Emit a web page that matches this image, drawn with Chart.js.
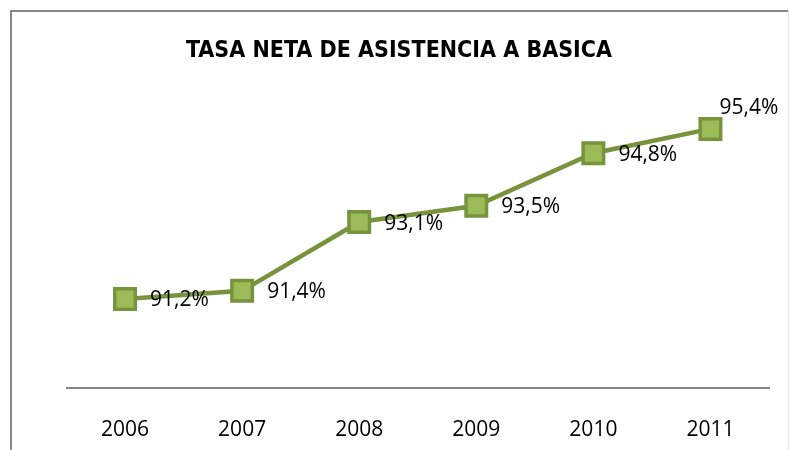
<!DOCTYPE html>
<html>
<head>
<meta charset="utf-8">
<script src="https://cdn.jsdelivr.net/npm/chart.js@4"></script>
<style>
  html, body { margin: 0; padding: 0; background: #fff; }
  #wrap { width: 789px; height: 450px; position: relative; }
</style>
</head>
<body>
<div id="wrap"><canvas id="chart" width="789" height="450"></canvas></div>
<script>
// datos
const years = ['2006', '2007', '2008', '2009', '2010', '2011'];
const tasa = [91.2, 91.4, 93.1, 93.5, 94.8, 95.4];
const labelOffsets = [[25, 1], [25, 1], [25, 2], [25, 1], [25, 2], [9, -21]];
const chartTitle = 'TASA NETA DE ASISTENCIA A BASICA';

const lineColor = '#77933C';
const markerFill = '#9BBB59';
const labelFont = '21px "Open Sans"';

// marco y título
const framePlugin = {
  id: 'frame',
  beforeDraw(chart) {
    const ctx = chart.ctx;
    ctx.save();
    ctx.strokeStyle = '#888888';
    ctx.lineWidth = 2;
    ctx.beginPath();
    ctx.moveTo(11, 450);
    ctx.lineTo(11, 11);
    ctx.lineTo(788, 11);
    ctx.stroke();
    ctx.strokeStyle = '#e4e4e4';
    ctx.lineWidth = 1;
    ctx.beginPath();
    ctx.moveTo(788.5, 11);
    ctx.lineTo(788.5, 450);
    ctx.stroke();

    ctx.font = 'bold 23px "Liberation Sans Narrow", "DejaVu Sans Condensed", sans-serif';
    ctx.fillStyle = '#000';
    ctx.textAlign = 'center';
    ctx.textBaseline = 'alphabetic';
    ctx.fillText(chartTitle, 399, 57);
    ctx.restore();
  }
};

// etiquetas de datos
const valueLabels = {
  id: 'valueLabels',
  afterDatasetsDraw(chart) {
    const ctx = chart.ctx;
    const meta = chart.getDatasetMeta(0);
    ctx.save();
    ctx.font = labelFont;
    ctx.fillStyle = '#000';
    ctx.textAlign = 'left';
    ctx.textBaseline = 'middle';
    meta.data.forEach((pt, i) => {
      const txt = tasa[i].toFixed(1).replace('.', ',') + '%';
      const off = labelOffsets[i];
      ctx.fillText(txt, pt.x + off[0], pt.y + off[1]);
    });
    ctx.restore();
  }
};

const ctx = document.getElementById('chart').getContext('2d');
new Chart(ctx, {
  type: 'line',
  data: {
    labels: years,
    datasets: [{
      data: tasa,
      borderColor: lineColor,
      borderWidth: 4.5,
      pointStyle: 'rect',
      pointRadius: 14.5,
      pointBackgroundColor: markerFill,
      pointBorderColor: lineColor,
      pointBorderWidth: 3.5,
      tension: 0
    }]
  },
  options: {
    responsive: false,
    animation: false,
    layout: { padding: { left: 66.5, right: 20, top: 104.6, bottom: 0 } },
    plugins: {
      legend: { display: false },
      tooltip: { enabled: false },
      title: { display: false }
    },
    scales: {
      x: {
        offset: true,
        grid: { display: false, drawTicks: false },
        border: { display: true, color: '#868686', width: 2 },
        ticks: { color: '#000', padding: 29, font: { family: '"Open Sans"', size: 21 } },
        afterFit(scale) { scale.height = 62; }
      },
      y: {
        display: false,
        min: 89,
        max: 96
      }
    }
  },
  plugins: [framePlugin, valueLabels]
});
</script>
</body>
</html>
